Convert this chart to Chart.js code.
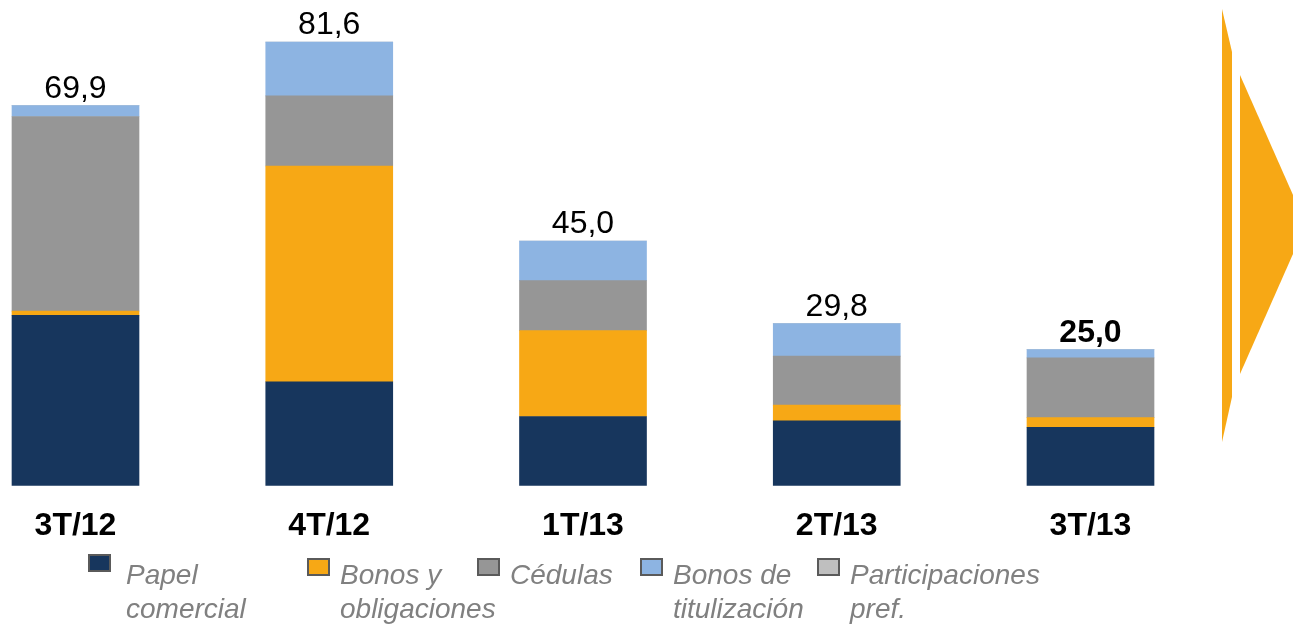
<!DOCTYPE html>
<html>
<head>
<meta charset="utf-8">
<script src="https://cdn.jsdelivr.net/npm/chart.js@4.4.1/dist/chart.umd.min.js"></script>
<style>
  html, body { margin: 0; padding: 0; background: #fff; }
  #wrap { position: relative; width: 1293px; height: 625px; overflow: hidden; }
  #chart { position: absolute; left: 0; top: 0; }
  #arrow { position: absolute; left: 0; top: 0; }
  .leg { position: absolute; top: 558px; font: italic 28px Arial, "Liberation Sans", sans-serif;
         line-height: 34px; color: #808080; white-space: nowrap; }
  .leg i { position: absolute; left: -33px; top: 0; width: 19px; height: 14px;
           border: 2px solid #5a5a5a; }
  .leg:first-child i { left: -38px; top: -4px; }
</style>
</head>
<body>
<div id="wrap">
  <canvas id="chart" width="1293" height="625"></canvas>
  <!-- flecha decorativa a la derecha -->
  <svg id="arrow" width="1293" height="625">
    <polygon points="1222,9 1232,52 1232,397 1222,442" fill="#F7A815" />
    <polygon points="1240,75 1306,224.5 1240,374" fill="#F7A815" />
  </svg>
  <div id="legend"></div>
</div>
<script>
const FONT = 'Arial, "Liberation Sans", sans-serif';

const categories = ["3T/12", "4T/12", "1T/13", "2T/13", "3T/13"];
const papelComercial = [31.3, 19.1, 12.7, 11.9, 10.7];
const bonosObligaciones = [0.8, 39.7, 15.8, 2.9, 1.8];
const cedulas = [35.8, 12.9, 9.2, 9.0, 11.0];
const bonosTitulizacion = [2.0, 9.9, 7.3, 6.0, 1.5];
const participacionesPref = [0, 0, 0, 0, 0];
const totals = [69.9, 81.6, 45.0, 29.8, 25.0];

const seriesNames = [
  ["Papel", "comercial"],
  ["Bonos y", "obligaciones"],
  ["Cédulas"],
  ["Bonos de", "titulización"],
  ["Participaciones", "pref."],
];
const seriesColors = ["#17365D", "#F7A815", "#969696", "#8DB4E2", "#BFBFBF"];
const seriesData = [papelComercial, bonosObligaciones, cedulas, bonosTitulizacion, participacionesPref];

// posicion x del texto de cada entrada de la leyenda
const LEGEND_X = [126, 340, 510, 673, 850];

// totales encima de cada columna, el ultimo en negrita
const totalsPlugin = {
  id: "totals",
  afterDatasetsDraw(chart) {
    const { ctx, scales } = chart;
    ctx.save();
    ctx.fillStyle = "#000";
    ctx.textAlign = "center";
    ctx.textBaseline = "alphabetic";
    totals.forEach((t, i) => {
      ctx.font = (i === totals.length - 1 ? "bold " : "") + "32px " + FONT;
      const x = scales.x.getPixelForValue(i);
      const y = scales.y.getPixelForValue(t) - 8;
      ctx.fillText(t.toFixed(1).replace(".", ","), x, y);
    });
    ctx.restore();
  },
};

new Chart(document.getElementById("chart"), {
  type: "bar",
  data: {
    labels: categories,
    datasets: seriesData.map((d, i) => ({
      label: seriesNames[i].join(" "),
      data: d,
      backgroundColor: seriesColors[i],
      borderWidth: 0,
      barThickness: 127,
      clip: false,
    })),
  },
  plugins: [totalsPlugin],
  options: {
    responsive: false,
    animation: false,
    events: [],
    layout: { padding: { left: 75.5, right: 202.5, top: 23.6, bottom: 58.1 } },
    plugins: { legend: { display: false }, tooltip: { enabled: false } },
    scales: {
      x: {
        stacked: true,
        offset: false,
        grid: { display: false, drawTicks: false },
        border: { display: false },
        ticks: {
          color: "#000",
          font: { family: FONT, size: 32, weight: "bold" },
          padding: 21.5,
          maxRotation: 0,
          autoSkip: false,
        },
      },
      y: { stacked: true, display: false, min: 0, max: 85 },
    },
  },
});

// leyenda html (las etiquetas van en dos lineas)
const legend = document.getElementById("legend");
seriesNames.forEach((lines, i) => {
  const el = document.createElement("div");
  el.className = "leg";
  el.style.left = LEGEND_X[i] + "px";
  el.innerHTML = '<i style="background:' + seriesColors[i] + '"></i>' + lines.join("<br>");
  legend.appendChild(el);
});
</script>
</body>
</html>
